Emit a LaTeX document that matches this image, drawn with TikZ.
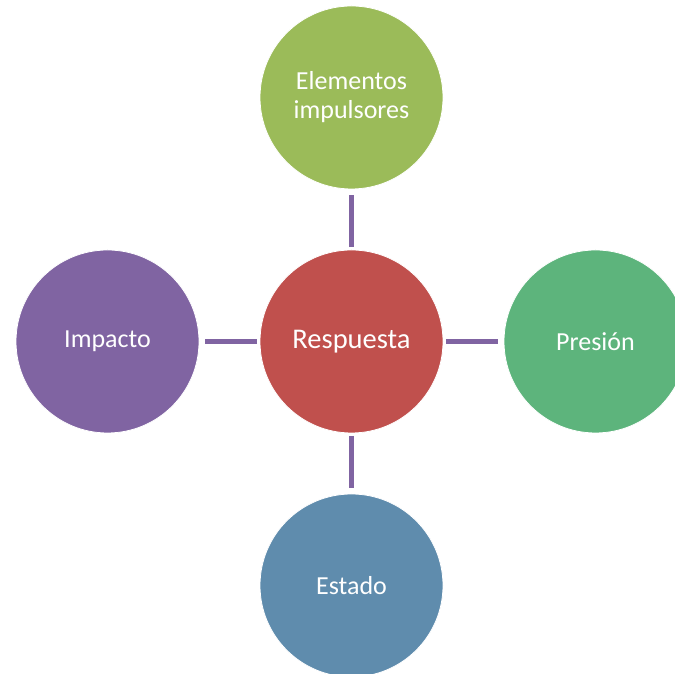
\documentclass[tikz,border=0pt]{standalone}
\usepackage{fontspec}
\setmainfont{Carlito}
\definecolor{cRed}{HTML}{C0504D}
\definecolor{cLime}{HTML}{9BBB59}
\definecolor{cGreen}{HTML}{5DB47C}
\definecolor{cPurple}{HTML}{8064A2}
\definecolor{cBlue}{HTML}{5F8CAD}
\tikzset{
	bubble/.style={circle,draw=white,line width=0.8,minimum size=183,inner sep=0,text=white,align=center,font=\fontsize{26}{29}\selectfont},
	link/.style={draw=cPurple,line width=5.5,shorten <=2.5,shorten >=5.5}
}
\begin{document}
\begin{tikzpicture}[x=1pt,y=1pt]
		\useasboundingbox (0,0) rectangle (675,674);
		\clip (0,0) rectangle (675,674);
		\node[bubble,fill=cRed,font=\fontsize{28.5}{32}\selectfont] (resp) at (351.5,332.5) {Respuesta};
		\node[bubble,fill=cLime] (elem) at (351.5,576.5) {Elementos\\impulsores};
		\node[bubble,fill=cPurple] (imp) at (107.5,332.5) {Impacto};
		\node[bubble,fill=cGreen] (pres) at (595.5,332.5) {Presión};
		\node[bubble,fill=cBlue] (est) at (351.5,88.5) {Estado};
		\draw[link] (resp) -- (elem);
		\draw[link] (resp) -- (imp);
		\draw[link] (resp) -- (pres);
		\draw[link] (resp) -- (est);
	\end{tikzpicture}
\end{document}
